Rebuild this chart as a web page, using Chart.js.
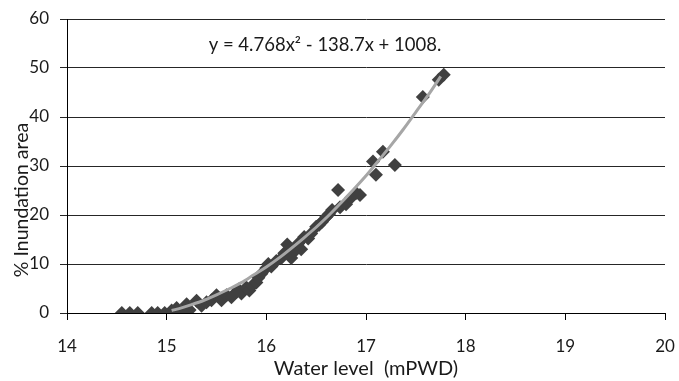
<!DOCTYPE html>
<html><head><meta charset="utf-8">
<script src="https://cdn.jsdelivr.net/npm/chart.js@4.4.1/dist/chart.umd.min.js"></script>
<style>html,body{margin:0;padding:0;background:#fff}</style>
</head><body>
<canvas id="c" width="679" height="381"></canvas>
<script>
// Observed points: water level (mPWD) and % inundation area
const waterLevel = [14.55, 14.63, 14.71, 14.85, 14.91, 14.98, 15.05, 15.10, 15.15, 15.20, 15.23, 15.30, 15.35, 15.40, 15.45, 15.50, 15.55, 15.60, 15.65, 15.70, 15.72, 15.75, 15.80, 15.83, 15.86, 15.90, 15.92, 15.95, 16.00, 16.02, 16.05, 16.10, 16.15, 16.18, 16.21, 16.25, 16.28, 16.32, 16.35, 16.38, 16.42, 16.45, 16.50, 16.53, 16.56, 16.60, 16.63, 16.66, 16.72, 16.74, 16.80, 16.85, 16.90, 16.94, 17.07, 17.10, 17.17, 17.29, 17.57, 17.73, 17.78];
const inundation = [0, 0, 0, 0, 0, 0, 0.5, 1.0, 0, 1.8, 0.6, 2.5, 1.5, 2.2, 2.6, 3.6, 2.6, 3.6, 3.2, 4.3, 4.8, 4.0, 5.2, 4.6, 5.6, 6.2, 7.2, 8.0, 9.2, 10.0, 9.5, 10.6, 11.2, 12.2, 14.0, 11.2, 12.5, 14.2, 13.0, 15.5, 15.2, 16.2, 17.6, 18.0, 18.6, 19.6, 20.2, 21.0, 25.1, 21.6, 22.2, 23.5, 24.5, 24.1, 30.9, 28.2, 32.9, 30.2, 44.1, 47.6, 48.6];

// Polynomial trendline as drawn on the chart
const trendX = [15.05, 15.125, 15.25, 15.375, 15.50, 15.625, 15.75, 15.875, 16.00, 16.125, 16.25, 16.375, 16.50, 16.625, 16.75, 16.875, 17.00, 17.125, 17.25, 17.375, 17.50, 17.625, 17.75];
const trendY = [0.5, 0.9, 1.7, 2.6, 3.7, 4.9, 6.2, 7.8, 9.4, 11.2, 13.2, 15.3, 17.5, 19.9, 22.5, 25.2, 28.0, 31.1, 34.2, 37.5, 41.0, 44.5, 48.3];

const xTicks = [14, 15, 16, 17, 18, 19, 20];
const yTicks = [0, 10, 20, 30, 40, 50, 60];

const equationText = 'y = 4.768x\u00B2 - 138.7x + 1008.';
const xTitle = 'Water level  (mPWD)';
const yTitle = '% Inundation area';

const FONT = 'Lato, "Open Sans", sans-serif';

const overlay = {
  id: 'overlay',
  afterDraw(chart) {
    const ctx = chart.ctx;
    ctx.save();
    ctx.fillStyle = '#1a1a1a';
    ctx.font = '18.5px ' + FONT;
    ctx.textAlign = 'center';
    ctx.textBaseline = 'middle';
    ctx.fillText(equationText, 325, 45);
    ctx.translate(22, 200);
    ctx.rotate(-Math.PI / 2);
    ctx.font = '19.5px ' + FONT;
    ctx.fillText(yTitle, 0, 0);
    ctx.restore();
  }
};

new Chart(document.getElementById('c'), {
  type: 'scatter',
  data: {
    datasets: [
      {
        type: 'line',
        label: 'Trend',
        data: trendX.map((x, i) => ({x: x, y: trendY[i]})),
        borderColor: '#a6a6a6',
        borderWidth: 3,
        pointRadius: 0,
        fill: false,
        cubicInterpolationMode: 'monotone',
        order: 0
      },
      {
        label: 'Observed',
        data: waterLevel.map((x, i) => ({x: x, y: inundation[i]})),
        backgroundColor: '#404040',
        borderColor: '#404040',
        borderWidth: 0,
        pointStyle: 'rectRot',
        pointRadius: 7,
        pointHoverRadius: 7,
        order: 1
      }
    ]
  },
  options: {
    responsive: false,
    animation: false,
    layout: { padding: { left: 0, top: 19, right: 14, bottom: 0 } },
    plugins: { legend: { display: false }, tooltip: { enabled: false } },
    scales: {
      x: {
        type: 'linear',
        min: 14, max: 20,
        afterBuildTicks(axis) { axis.ticks = xTicks.map(v => ({value: v})); },
        afterFit(axis) { axis.height = 68; axis.paddingLeft = 0; axis.paddingRight = 0; },
        grid: { drawOnChartArea: false, drawTicks: true, tickLength: 7, color: '#000', lineWidth: 1 },
        border: { color: '#000', width: 1 },
        ticks: { color: '#1a1a1a', font: { family: FONT, size: 17 }, padding: 16, maxRotation: 0 },
        title: { display: true, text: xTitle, color: '#1a1a1a', font: { family: FONT, size: 20 }, padding: { top: 0, bottom: 0 } }
      },
      y: {
        type: 'linear',
        min: 0, max: 60,
        afterBuildTicks(axis) { axis.ticks = yTicks.map(v => ({value: v})); },
        afterFit(axis) { axis.width = 67; axis.paddingTop = 0; axis.paddingBottom = 0; },
        grid: { drawOnChartArea: true, drawTicks: true, tickLength: 7, color: '#262626', lineWidth: 1 },
        border: { color: '#000', width: 1 },
        ticks: { color: '#1a1a1a', font: { family: FONT, size: 17 }, padding: 11 }
      }
    }
  },
  plugins: [overlay]
});
</script>
</body></html>
